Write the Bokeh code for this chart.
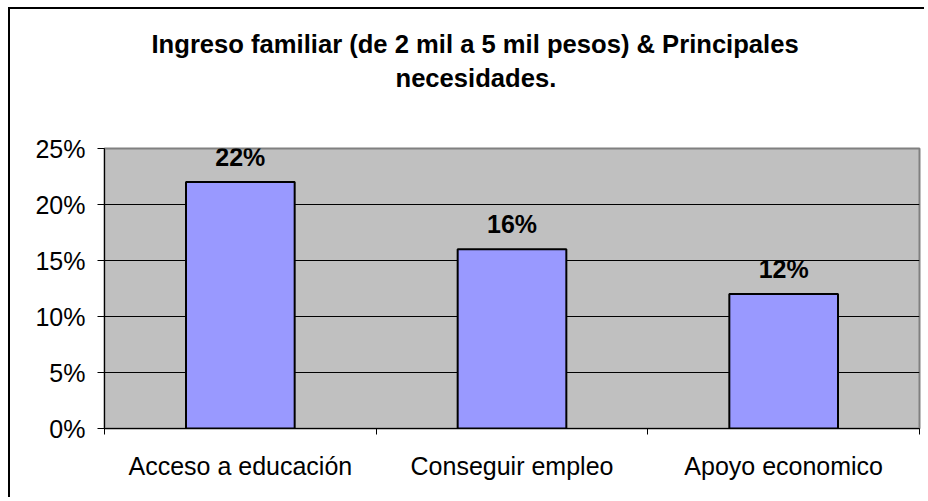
from bokeh.plotting import figure
from bokeh.models import Range1d, FixedTicker, NumeralTickFormatter, ColumnDataSource, Title
from bokeh.core.properties import value
from bokeh.embed import file_html
from bokeh.resources import INLINE

title_line1 = "Ingreso familiar (de 2 mil a 5 mil pesos) & Principales"
title_line2 = "necesidades."
categories = ["Acceso a educación", "Conseguir empleo", "Apoyo economico"]
values = [0.22, 0.16, 0.12]
labels = ["22%", "16%", "12%"]
y_ticks = [0, 0.05, 0.10, 0.15, 0.20, 0.25]
grid_ticks = [0.05, 0.10, 0.15, 0.20]

FONT = "Liberation Sans"
xs = [i + 0.5 for i in range(len(categories))]
bounds = [float(i) for i in range(len(categories) + 1)]

src = ColumnDataSource(dict(x=xs, top=values, label=labels))

p = figure(width=916, height=490, output_backend="svg", toolbar_location=None,
           x_range=Range1d(0, len(categories)), y_range=Range1d(0, 0.25),
           min_border_left=94, min_border_right=7, min_border_top=139,
           min_border_bottom=71)
p.styles = {"margin-left": "8px", "margin-top": "7px",
            "border-left": "2px solid #000000", "border-top": "2px solid #000000"}

def style_title(t, standoff, offset):
    t.text_font = FONT
    t.text_font_size = "25.6px"
    t.text_font_style = "bold"
    t.text_color = "#000000"
    t.align = "left"
    t.offset = offset
    t.standoff = standoff

# outermost title line
p.title.text = title_line1
style_title(p.title, 4, 47)
# spacer between the title block and the plot frame (nearest the frame)
spacer = Title(text=" ")
style_title(spacer, 25, 0)
p.add_layout(spacer, "above")
t2 = Title(text=title_line2)
style_title(t2, 4, 291)
p.add_layout(t2, "above")

p.background_fill_color = "#C0C0C0"
p.border_fill_color = "#FFFFFF"
p.outline_line_color = "#808080"
p.outline_line_width = 2

p.vbar(x="x", top="top", width=0.4, bottom=0, source=src,
       fill_color="#9999FF", line_color="#000000", line_width=2)

p.text(x="x", y="top", text="label", source=src, text_align="center",
       text_baseline="bottom", y_offset=-11,
       text_font=value(FONT), text_font_size="25px", text_font_style="bold",
       text_color="#000000")

# y axis
p.yaxis.ticker = FixedTicker(ticks=y_ticks)
p.yaxis.formatter = NumeralTickFormatter(format="0%")
p.yaxis.major_label_text_font = FONT
p.yaxis.major_label_text_font_size = "25px"
p.yaxis.major_label_text_color = "#000000"
p.yaxis.major_tick_out = 7
p.yaxis.major_tick_in = 0
p.yaxis.minor_tick_line_color = None
p.yaxis.axis_line_color = "#000000"
p.yaxis.major_tick_line_color = "#000000"
p.yaxis.major_label_standoff = 12

# x axis: labels at centres, ticks at category boundaries
p.xaxis.ticker = FixedTicker(ticks=xs, minor_ticks=bounds)
p.xaxis.major_label_overrides = {x: c for x, c in zip(xs, categories)}
p.xaxis.major_label_text_font = FONT
p.xaxis.major_label_text_font_size = "25px"
p.xaxis.major_label_text_color = "#000000"
p.xaxis.major_tick_line_color = None
p.xaxis.major_tick_out = 0
p.xaxis.major_tick_in = 0
p.xaxis.minor_tick_out = 6
p.xaxis.minor_tick_in = 0
p.xaxis.minor_tick_line_color = "#000000"
p.xaxis.axis_line_color = "#000000"
p.xaxis.major_label_standoff = 17

p.xgrid.grid_line_color = None
p.ygrid.ticker = FixedTicker(ticks=grid_ticks)
p.ygrid.grid_line_color = "#000000"
p.ygrid.grid_line_width = 1

open("out.html", "w").write(file_html(p, INLINE))
